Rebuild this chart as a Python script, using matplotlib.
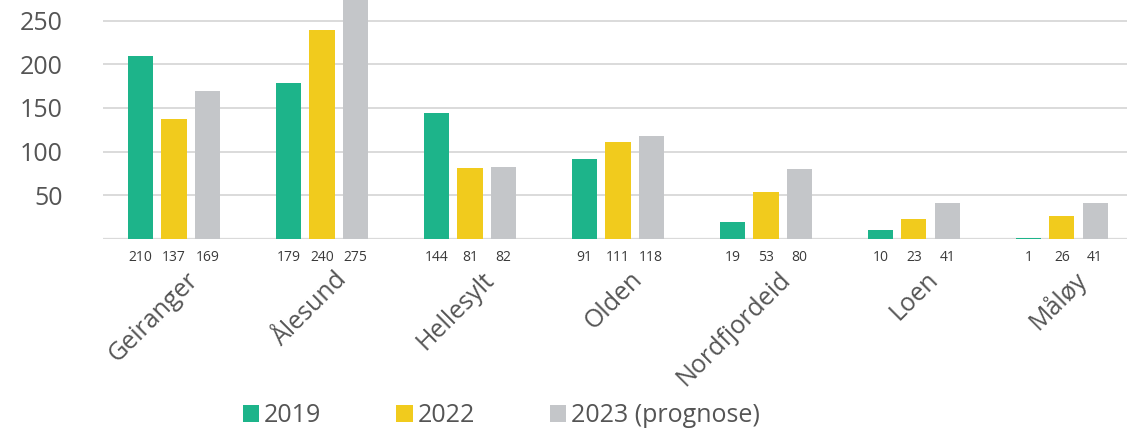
import numpy as np
import matplotlib
matplotlib.use("Agg")
import matplotlib.pyplot as plt
from matplotlib.patches import Patch

# ------------ data -----------------
havner = ["Geiranger", "Ålesund", "Hellesylt", "Olden", "Nordfjordeid", "Loen", "Måløy"]
anløp_2019 = [210, 179, 144, 91, 19, 10, 1]
anløp_2022 = [137, 240, 81, 111, 53, 23, 26]
anløp_2023 = [169, 275, 82, 118, 80, 41, 41]
serie_navn = ["2019", "2022", "2023 (prognose)"]
y_ticks = [50, 100, 150, 200, 250]

farger = ["#1DB48A", "#F1CB1D", "#C4C6C9"]
tekstfarge = "#555555"

plt.rcParams["font.family"] = ["Open Sans", "DejaVu Sans"]

fig = plt.figure(figsize=(11.27, 4.41), dpi=100)
ax = fig.add_axes([0.0914, 0.459, 0.9086, 0.541])

x = np.arange(len(havner))
step = 0.225
width = 0.17
serier = [anløp_2019, anløp_2022, anløp_2023]

for k, (verdier, farge) in enumerate(zip(serier, farger)):
    pos = x + (k - 1) * step
    ax.bar(pos, verdier, width=width, color=farge, zorder=3)
    for xp, v in zip(pos, verdier):
        ax.annotate(str(v), xy=(xp, 0), xycoords=("data", "axes fraction"),
                    xytext=(0, -8.5), textcoords="offset points",
                    ha="center", va="top", fontsize=10, color="#3a3a3a")

ax.set_ylim(0, 274)
ax.set_xlim(-0.48, 6.44)
ax.set_yticks(y_ticks)
ax.set_yticklabels([str(t) for t in y_ticks], fontsize=18, color=tekstfarge)
ax.tick_params(axis="y", length=0, pad=29)
ax.yaxis.grid(True, color="#DADADA", linewidth=1.4, zorder=0)
ax.axhline(0, color="#DADADA", linewidth=1.6, zorder=2)

# navnene står skrått, høyre ende litt til høyre for gruppa
ax.set_xticks(x + 0.14)
ax.set_xticklabels(havner, rotation=45, ha="right", va="center",
                   rotation_mode="anchor", fontsize=18, color=tekstfarge)
ax.tick_params(axis="x", length=0, pad=27)

for s in ax.spines.values():
    s.set_visible(False)

handles = [Patch(facecolor=f, edgecolor="none") for f in farger]
fig.legend(handles, serie_navn, loc="center", bbox_to_anchor=(0.445, 0.057),
           ncol=3, frameon=False, fontsize=18, handlelength=0.65, handleheight=0.65,
           handletextpad=0.2, columnspacing=3.0, labelcolor=tekstfarge)

fig.savefig("out.png", dpi=100)
